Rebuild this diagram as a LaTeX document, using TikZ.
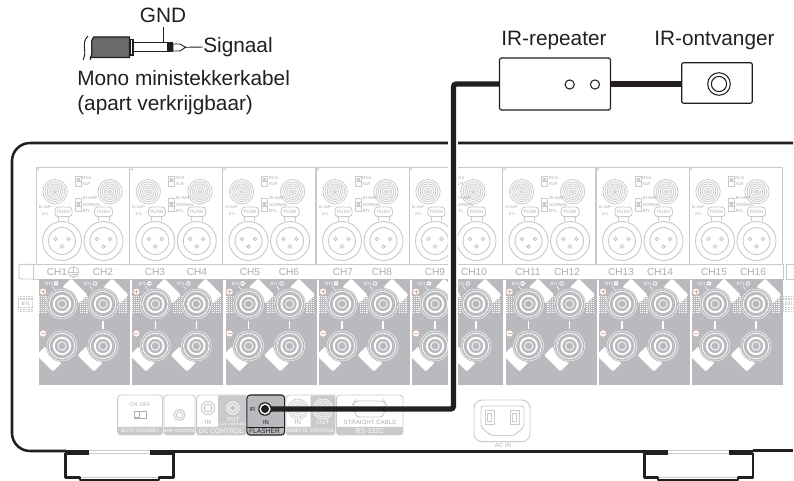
\documentclass[tikz,border=0pt]{standalone}
\usepackage{fontspec}
\setmainfont{Liberation Sans}
\definecolor{lg}{HTML}{C9CACC}
\definecolor{tg}{HTML}{ADAEB0}
\definecolor{blk}{HTML}{B9BABD}
\definecolor{ink}{HTML}{231F20}
\definecolor{jk}{HTML}{6A6A6A}
\definecolor{plus}{HTML}{D9A090}
\tikzset{
  lbl/.style={font=\fontsize{15.6}{18}\selectfont,text=ink,inner sep=0pt},
  faint/.style={draw=lg,line width=0.7pt},
  ty/.style={font=\fontsize{3.2}{4}\selectfont,text=tg,inner sep=0pt},
  chl/.style={font=\fontsize{7.6}{8}\selectfont,text=tg,inner sep=0pt},
  stripw/.style={font=\fontsize{4.6}{5}\selectfont,text=white,inner sep=0pt},
  ws/.style={font=\fontsize{3.4}{4}\selectfont,text=white,inner sep=0pt},
  bigwire/.style={draw=ink,line width=3.9pt},
  hull/.style={draw=ink,line width=1.9pt},
  hullthick/.style={draw=ink,line width=3.2pt},
  modbox/.style={draw=ink,line width=0.9pt,fill=white,rounded corners=1.5pt,inner sep=0pt},
}
\newcommand{\cterm}[3]{% x y wing angle
  \fill[white,rotate around={#3:(#1,#2)},rounded corners=1pt] (#1+12,#2-11.5) rectangle (#1+24.5,#2+11.5);
  \fill[blk] (#1,#2) circle[radius=16];
  \draw[white,line width=0.3pt] (#1,#2) circle[radius=15];
  \draw[white,line width=0.6pt] (#1,#2) circle[radius=12.8];
  \draw[white,line width=1.4pt] (#1,#2) circle[radius=8.2];
  \draw[white,line width=0.6pt] (#1,#2) circle[radius=4.2];
}
\newcommand{\ccoil}[2]{%
  \foreach \r in {1.5,3.6,5.7,7.8,9.9,12.2}{\draw[draw=lg,line width=0.6pt] (#1,#2) circle[radius=\r];}
}
\newcommand{\cxlr}[2]{%
  \draw[faint] (#1,#2) circle[radius=19.5];
  \draw[faint] (#1,#2) circle[radius=13.5];
  \foreach \a/\b in {-6.5/-2,6.5/-2,0/5.5}{\draw[faint] (#1+\a,#2+\b) circle[radius=1.7];}
}
\newcommand{\cdotrows}[2]{%
  \foreach \k in {0,2,4,6,8,10,12,14,16}{\draw[white,line width=0.5pt,dash pattern=on 0.7pt off 0.7pt] (#1,#2+\k) -- ++(8,0);}
}
\begin{document}
\begin{tikzpicture}[x=0.75pt,y=-0.75pt]
\useasboundingbox (0,0) rectangle (794,481);
\fill[white] (0,0) rectangle (794,481);

% --- hull
\draw[hull,rounded corners=13.5pt] (793,143) -- (12,143) -- (12,451) -- (66,451);
\draw[hull] (173,451) -- (644,451);
\draw[hull] (753,450.5) -- (793,450.5);
\draw[draw=ink,line width=2.4pt] (150,451.5) -- (668,451.5);
\draw[hullthick] (65,452.5) -- (89,452.5);
\draw[hullthick] (150,452.5) -- (173,452.5);
\draw[hullthick] (644,452.5) -- (668,452.5);
\draw[hullthick] (729,452.5) -- (753,452.5);
\draw[draw=lg,line width=0.8pt] (89,450.5) -- (150,450.5) (89,453.8) -- (150,453.8);
\draw[draw=lg,line width=0.8pt] (668,450.5) -- (729,450.5) (668,453.8) -- (729,453.8);
% feet
\draw[hull,line join=round] (65.5,453) -- (65.5,477.5) -- (80,477.5) -- (80,480) -- (159,480) -- (159,477.5) -- (173.5,477.5) -- (173.5,453);
\draw[draw=lg,line width=0.7pt] (81,477) -- (158,477);
\draw[hull,line join=round] (644.5,453) -- (644.5,477.5) -- (658,477.5) -- (658,480) -- (738,480) -- (738,477.5) -- (753,477.5) -- (753,453);
\draw[draw=lg,line width=0.7pt] (659,477) -- (737,477);

% --- CH band
\draw[faint,rounded corners=1.5pt] (33,264.3) -- (19,264.3) -- (19,279) -- (33,279);
\draw[faint] (33,264.3) rectangle (783,279);
\draw[faint] (794,264.3) -- (786,264.3) -- (786,279) -- (794,279);
\foreach \t/\cx in {CH1/57,CH2/103,CH3/155,CH4/197,CH5/250,CH6/289,CH7/343,CH8/382,CH9/435,CH10/474,CH11/528,CH12/567,CH13/621,CH14/660,CH15/714,CH16/753}{
  \node[chl] (lab\t) at (\cx,272) {\t};
}
\draw[faint] (73.5,272) circle[radius=5.3];
\draw[draw=lg,line width=0.5pt] (73.5,267) -- (73.5,272) (69,272) -- (78,272) (70.5,274) -- (76.5,274) (72,276) -- (75,276);

% --- BTL side cells
\foreach \xa/\nn in {18/l,783/r}{
  \foreach \k in {0,1.6,3.2,4.8,6.4,8,9.6,11.2,12.8,14.4}{\draw[draw=lg,line width=0.4pt,dash pattern=on 0.6pt off 0.6pt] (\xa,296.5+\k) -- ++(16,0);}
  \fill[white] (\xa+2,301) rectangle (\xa+14,307.5);
}
\node[ty,font=\fontsize{3.6}{4}\selectfont] (btlL) at (26,304) {BTL};
\node[ty,font=\fontsize{3.6}{4}\selectfont,anchor=west] (btlR) at (784.6,304) {BTL};

% --- channel panels
\foreach \i/\dx/\cc/\ci in {0/0/110/0,1/93.3/106.7/1,2/186.6/106/1,3/280/106/1,4/373/100/1,5/466.6/106/1,6/560/106/1,7/653/104/1}{
\begin{scope}[shift={(\dx,0)}]
  \draw[faint] (36,264.3) -- (36,167) -- (129.3,167) -- (129.3,264.3);
  \draw[draw=lg,line width=0.4pt] (36.5,169) -- (38.5,169) -- (38.5,167);
  \ccoil{55}{191.7}
  \ccoil{\cc}{191.7}
  \draw[draw=lg,line width=0.5pt] (75,176.7) rectangle (81,186.7) (75,181.7) -- (81,181.7);
  \fill[lg] (76.5,178) rectangle (79.5,181);
  \draw[draw=lg,line width=0.5pt] (75,198) rectangle (81,211.3) (75,202.4) -- (81,202.4) (75,206.8) -- (81,206.8);
  \fill[lg] (76.5,203.5) rectangle (79.5,206);
  \node[ty,anchor=west] (rca\i) at (82,178) {RCA};
  \node[ty,anchor=west] (xlr\i) at (82,184.5) {XLR};
  \node[ty,anchor=west] (ua\i) at (82.5,198) {BI-AMP};
  \node[ty,anchor=west] (nm\i) at (82.5,205) {NORMAL};
  \node[ty,anchor=west] (bt\i) at (82.5,211.5) {BTL};
  \node[ty,anchor=west,font=\fontsize{2.8}{3}\selectfont] (ub\i) at (38.5,207.5) {BI-AMP};
  \node[ty,anchor=west,font=\fontsize{2.8}{3}\selectfont] (bu\i) at (42,214) {BTL};
  \draw[faint,fill=white,rounded corners=2.5pt] (55,207) rectangle (72,216.7);
  \draw[faint,fill=white,rounded corners=2.5pt] (94.5,207) rectangle (112.5,216.7);
  \node[ty,font=\fontsize{3.5}{4}\selectfont] (pa\i) at (63.5,212) {PUSH};
  \node[ty,font=\fontsize{3.5}{4}\selectfont] (pb\i) at (103.5,212) {PUSH};
  \cxlr{62}{241}
  \cxlr{103.5}{241}
  \draw[draw=lg,line width=0.6pt] (58,216.7) -- (58,221) (68,216.7) -- (68,221) (98,216.7) -- (98,221) (109,216.7) -- (109,221);
  % grey block
  \fill[blk] (39,279.3) rectangle (130,384.7);
  \cdotrows{39}{296}
  \cdotrows{80}{296}
  \cdotrows{119}{296}
  \cterm{62}{304}{45}
  \cterm{103}{304}{45}
  \cterm{62}{346}{225}
  \cterm{103}{346}{225}
  \draw[white,line width=1pt] (103,321) -- (103,329);
  \ifnum\ci=1 \draw[white,line width=1pt] (62,321) -- (62,329);\fi
  \draw[white,line width=0.35pt] (52,286) -- (55,290) (90,286) -- (93,290);
  \fill[white] (43,291.7) circle[radius=3.6];
  \draw[plus,line width=0.4pt] (43,291.7) circle[radius=3.6];
  \draw[blk,line width=0.7pt] (41,291.7) -- (45,291.7) (43,289.7) -- (43,293.7);
  \fill[white] (43,333.5) circle[radius=3.6];
  \draw[plus,line width=0.4pt] (43,333.5) circle[radius=3.6];
  \draw[blk,line width=0.7pt] (41,333.5) -- (45,333.5);
  \node[ws] (ba\i) at (49.5,283.5) {BTL};
  \node[ws] (bb\i) at (88,283.5) {BTL};
  \fill[white] (56,283.5) circle[radius=2.3];
  \fill[white] (95,283.5) circle[radius=2.3];
  \draw[blk,line width=0.5pt] (54.7,283.5) -- (57.3,283.5);
  \draw[blk,line width=0.5pt] (95,283.5) circle[radius=1.2];
\end{scope}
}
% keep the cable lane clear
\fill[white] (448,141) rectangle (458,386);

% --- rear connector row
\draw[faint,rounded corners=2.5pt] (117.7,395) rectangle (162.7,435);
\draw[faint,rounded corners=2.5pt] (164,395) rectangle (195,435);
\draw[faint,rounded corners=2.5pt] (196.7,395) rectangle (246,435);
\draw[faint,rounded corners=2.5pt] (286,395) rectangle (335,435);
\draw[faint,rounded corners=2.5pt] (336.5,395) rectangle (403,435);
\foreach \xa/\xb in {117.7/162.7,164/195,196.7/246,286/335,336.5/403}{
  \fill[lg,rounded corners=2pt] (\xa,427) rectangle (\xb,435);
  \fill[lg] (\xa,427) rectangle (\xb,431);
}
\node[stripw,font=\fontsize{3.7}{4}\selectfont] (sa) at (140,431) {AUTO STANDBY};
\node[stripw,font=\fontsize{3.3}{4}\selectfont] (sb) at (179.5,431) {AMP CONTROL};
\node[stripw,font=\fontsize{5}{6}\selectfont] (sc) at (221,431) {DC CONTROL};
\node[stripw,font=\fontsize{3.9}{5}\selectfont] (sd) at (310.5,431) {REMOTE CONTROL};
\node[stripw,font=\fontsize{5.2}{6}\selectfont] (se) at (370,431) {RS-232C};
\node[ty,font=\fontsize{4}{5}\selectfont] (onoff) at (140,405) {ON\, OFF};
\draw[draw=tg,line width=0.6pt] (134,411) rectangle (146,418.5);
\fill[tg] (134,411) rectangle (139.5,418.5);
\fill[white] (135,412) rectangle (138.5,417.5);
\draw[faint] (179.5,415) circle[radius=5.5];
\draw[faint] (179.5,415) circle[radius=3.2];
\fill[lg] (218,395.4) -- (243.5,395.4) arc[start angle=90,end angle=0,radius=2.2] -- (246,427) -- (218,427) -- cycle;
\draw[faint] (208,408) circle[radius=6.5];
\draw[faint] (208,408) circle[radius=4];
\draw[white,line width=0.7pt] (233,408) circle[radius=6];
\draw[white,line width=0.7pt] (233,408) circle[radius=3.5];
\node[ty,font=\fontsize{4.6}{5}\selectfont] (dcin) at (208,422) {IN};
\node[stripw,font=\fontsize{4.4}{5}\selectfont] (dcout) at (233,419) {OUT};
\node[ws,font=\fontsize{2.6}{3}\selectfont] (dcv) at (232,424) {DC12V 150mA MAX.};
% flasher
\draw[draw=ink,line width=0.8pt,fill=blk,rounded corners=2.5pt] (246.8,395) rectangle (284.7,435);
\draw[draw=ink,line width=0.5pt] (246.8,427) -- (284.7,427);
\node[inner sep=0pt,font=\fontsize{4.4}{5}\selectfont,text=ink] (flir) at (252.5,409) {IR};
\node[inner sep=0pt,font=\fontsize{4.4}{5}\selectfont,text=ink] (flin) at (266,422) {IN};
\node[inner sep=0pt,font=\fontsize{5}{6}\selectfont,text=ink] (flash) at (264.5,431) {FLASHER};
% remote control
\fill[lg] (310.5,395.4) -- (332.8,395.4) arc[start angle=90,end angle=0,radius=2.2] -- (335,427) -- (310.5,427) -- cycle;
\foreach \r in {4,6,8,10}{\draw[draw=lg,line width=0.5pt] (298,409) circle[radius=\r];\draw[white,line width=0.5pt] (323,409) circle[radius=\r];}
\node[ty,font=\fontsize{4.6}{5}\selectfont] (rmin) at (298,422) {IN};
\node[stripw,font=\fontsize{4.6}{5}\selectfont] (rmout) at (323,422) {OUT};
\draw[faint,rounded corners=2.5pt] (355,401) -- (384,401) -- (386,404) -- (383,417) -- (356,417) -- (353,404) -- cycle;
\node[ty,font=\fontsize{4.6}{5}\selectfont] (stc) at (370,422) {STRAIGHT CABLE};
% AC IN
\draw[faint,rounded corners=6pt] (474,400) rectangle (530,441.7);
\draw[faint,rounded corners=1.5pt] (481,406) -- (524,406) -- (524,427) -- (514,435.5) -- (491,435.5) -- (481,427) -- cycle;
\draw[faint] (485,410) rectangle (494,424.3);
\draw[faint] (487.5,413) rectangle (491.5,421.5);
\draw[faint] (510,410) rectangle (519,424.3);
\draw[faint] (512.5,413) rectangle (516.5,421.5);
\node[ty,font=\fontsize{4.6}{5}\selectfont] (acin) at (503,445.5) {AC IN};

% --- repeater + receiver
\node[modbox,minimum width=83.2pt,minimum height=39pt] (rep) at (555,84) {};
\node[modbox,minimum width=53pt,minimum height=30.4pt] (rcv) at (717,83) {};
\coordinate (jackc) at (265,409);
\coordinate (bend1) at (453.5,409);
\coordinate (bend2) at (453.5,84);
\draw[bigwire,rounded corners=2pt] (jackc) -- (bend1) -- (bend2) -- (rep.west |- bend2);
\draw[bigwire] (rep.east |- bend2) -- (rcv.west |- bend2);
\fill[ink] (265,409) circle[radius=6.8];
\draw[white,line width=1pt] (265,409) circle[radius=4.9];
\fill[ink] (265,409) circle[radius=3.2];
\draw[draw=ink,line width=0.8pt] (569.7,84.5) circle[radius=4.6];
\draw[draw=ink,line width=0.8pt] (595,84.5) circle[radius=4.6];
\draw[draw=ink,line width=0.8pt] (719,84) circle[radius=11.3];
\draw[draw=ink,line width=0.8pt] (719,84) circle[radius=7.6];

% --- mini plug
\draw[draw=ink,line width=0.7pt] (88,36) .. controls (80,44) and (88,50) .. (83,60);
\draw[draw=ink,line width=0.7pt] (94,36.5) .. controls (88,44) and (95,50) .. (90,60);
\draw[draw=ink,line width=0.8pt,fill=jk] (94,37) -- (129.5,37) -- (129.5,57.5) -- (90.5,57.5) .. controls (95,50) and (88,44) .. (94,37) -- cycle;
\draw[draw=ink,line width=0.8pt,fill=white] (130,39.5) rectangle (133,55);
\draw[draw=ink,line width=0.8pt,fill=white] (133,42.8) rectangle (168,51.8);
\fill[ink] (168,42.5) rectangle (173,52);
\draw[draw=ink,line width=0.7pt,fill=white] (173,44) -- (180,44) -- (185.5,47.3) -- (180,51) -- (173,51) -- cycle;
\coordinate (tipend) at (185.5,47.3);
\coordinate (gndtop) at (163.5,27);
\coordinate (gndend) at (163.5,42.8);
\draw[draw=ink,line width=0.7pt] (gndtop) -- (gndend);

% --- labels
\node[lbl] (gnd) at (163,15) {GND};
\node[lbl,anchor=west] (sig) at (203,47) {Signaal};
\draw[draw=ink,line width=0.7pt] (tipend) -- (sig.west);
\node[lbl,anchor=base west] (mono) at (77,86) {Mono ministekkerkabel};
\node[lbl,anchor=base west] (apart) at (77,111) {(apart verkrijgbaar)};
\node[lbl] (irrep) at (554,41) {IR-repeater};
\node[lbl] (irrcv) at (714.5,41) {IR-ontvanger};
\end{tikzpicture}
\end{document}
